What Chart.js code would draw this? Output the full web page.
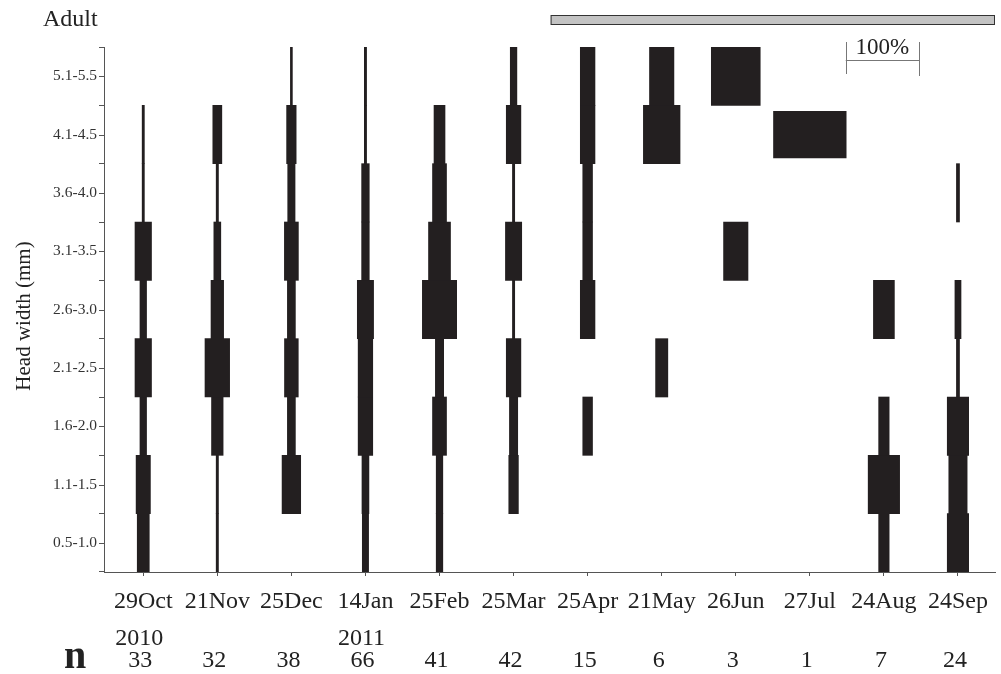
<!DOCTYPE html>
<html>
<head>
<meta charset="utf-8">
<script src="https://cdn.jsdelivr.net/npm/chart.js@4.4.1/dist/chart.umd.min.js"></script>
<style>
  html, body { margin: 0; padding: 0; background: #fff; }
  canvas { display: block; }
</style>
</head>
<body>
<canvas id="kiteChart" width="1001" height="674"></canvas>
<script>
const dates = ['29Oct', '21Nov', '25Dec', '14Jan', '25Feb', '25Mar', '25Apr', '21May', '26Jun', '27Jul', '24Aug', '24Sep'];
const years = ['2010', '', '', '2011', '', '', '', '', '', '', '', ''];
const nValues = [33, 32, 38, 66, 41, 42, 15, 6, 3, 1, 7, 24];
const bands = ['0.5-1.0', '1.1-1.5', '1.6-2.0', '2.1-2.5', '2.6-3.0', '3.1-3.5', '3.6-4.0', '4.1-4.5', '5.1-5.5'];

// % of individuals in each head width class, smallest class first
const oct29 = [16.4, 19.5, 9.0, 22.5, 9.0, 22.5, 3.0, 3.0, 0];
const nov21 = [3.1, 3.1, 15.8, 33.6, 17.2, 9.5, 3.1, 12.3, 0];
const dec25 = [0, 25.4, 10.9, 18.8, 10.9, 19.1, 10.0, 13.0, 2.7];
const jan14 = [8.6, 9.5, 19.9, 19.9, 22.2, 10.4, 10.4, 3.1, 3.1];
const feb25 = [9.0, 9.0, 19.1, 11.3, 46.8, 30.0, 19.1, 15.0, 0];
const mar25 = [0, 13.1, 11.3, 19.9, 3.1, 22.2, 3.1, 19.9, 9.0];
const apr25 = [0, 0, 13.3, 0, 20.0, 13.3, 13.3, 20.0, 20.0];
const may21 = [0, 0, 0, 16.7, 0, 0, 0, 50.0, 33.3];
const jun26 = [0, 0, 0, 0, 0, 33.3, 0, 0, 66.7];
const jul27 = [0, 0, 0, 0, 0, 0, 0, 100, 0];
const aug24 = [14.3, 42.9, 14.3, 0, 28.6, 0, 0, 0, 0];
const sep24 = [29.2, 25.0, 29.2, 4.2, 8.3, 0, 4.2, 0, 0];

const freq = [oct29, nov21, dec25, jan14, feb25, mar25, apr25, may21, jun26, jul27, aug24, sep24];

const UNIT_PER_PCT = 0.99 / 100; // 100% is about one sampling interval wide
const SERIF = '"Liberation Serif", "Times New Roman", serif';

const datasets = freq.map((vals, i) => ({
  label: dates[i],
  data: vals.map(p => p > 0 ? [i - p * UNIT_PER_PCT / 2, i + p * UNIT_PER_PCT / 2] : null),
  backgroundColor: '#231f20',
  borderWidth: 0,
  grouped: false,
  barPercentage: dates[i] === '27Jul' ? 0.81 : 1,
  categoryPercentage: 1,
}));

const extras = {
  id: 'extras',
  afterDraw(chart) {
    const { ctx, chartArea } = chart;
    const xs = chart.scales.x;
    const ys = chart.scales.y;
    ctx.save();

    // tick marks at the class labels
    ctx.strokeStyle = '#555';
    ctx.lineWidth = 1;
    bands.forEach((b, j) => {
      const y = Math.round(ys.getPixelForValue(j)) + 0.5;
      ctx.beginPath();
      ctx.moveTo(chartArea.left - 5, y);
      ctx.lineTo(chartArea.left, y);
      ctx.stroke();
    });

    // axis title
    ctx.save();
    ctx.translate(24, 316);
    ctx.rotate(-Math.PI / 2);
    ctx.fillStyle = '#222';
    ctx.font = '21px ' + SERIF;
    ctx.textAlign = 'center';
    ctx.textBaseline = 'middle';
    ctx.fillText('Head width (mm)', 0, 0);
    ctx.restore();

    // adult period bar
    ctx.fillStyle = '#c3c3c3';
    ctx.strokeStyle = '#333';
    const x0 = xs.getPixelForValue(5.5);
    ctx.fillRect(x0, 15, chartArea.right - x0, 10);
    ctx.strokeRect(x0 + 0.5, 15.5, chartArea.right - x0 - 1, 9);

    ctx.fillStyle = '#222';
    ctx.font = '24px ' + SERIF;
    ctx.textAlign = 'left';
    ctx.textBaseline = 'alphabetic';
    ctx.fillText('Adult', 43, 26);

    // 100% scale bar
    const sc = 9.98;
    const sl = xs.getPixelForValue(sc - 50 * UNIT_PER_PCT);
    const sr = xs.getPixelForValue(sc + 50 * UNIT_PER_PCT);
    ctx.strokeStyle = '#777';
    ctx.beginPath();
    ctx.moveTo(sl, 60.5); ctx.lineTo(sr, 60.5);
    ctx.moveTo(Math.round(sl) + 0.5, 42); ctx.lineTo(Math.round(sl) + 0.5, 74);
    ctx.moveTo(Math.round(sr) + 0.5, 42); ctx.lineTo(Math.round(sr) + 0.5, 76);
    ctx.stroke();
    ctx.textAlign = 'center';
    ctx.font = '23px ' + SERIF;
    ctx.fillText('100%', (sl + sr) / 2, 54);

    // year and sample size rows
    ctx.font = '24px ' + SERIF;
    dates.forEach((d, i) => {
      const x = xs.getPixelForValue(i);
      if (years[i]) ctx.fillText(years[i], x - 4, 645);
      ctx.fillText(String(nValues[i]), x - 3, 667);
    });
    ctx.font = 'bold 40px ' + SERIF;
    ctx.fillText('n', 75, 668);
    ctx.restore();
  }
};

new Chart(document.getElementById('kiteChart'), {
  type: 'bar',
  data: { labels: bands, datasets },
  options: {
    indexAxis: 'y',
    responsive: false,
    animation: false,
    layout: { padding: { top: 47, right: 6, left: 0, bottom: 0 } },
    plugins: { legend: { display: false }, tooltip: { enabled: false } },
    scales: {
      x: {
        type: 'linear',
        min: -0.53,
        max: 11.5,
        afterBuildTicks: s => { s.ticks = dates.map((d, i) => ({ value: i })); },
        afterFit: s => { s.height = 102; },
        grid: { drawOnChartArea: false, tickLength: 4, color: '#555' },
        border: { color: '#555' },
        ticks: {
          autoSkip: false,
          maxRotation: 0,
          padding: 11,
          color: '#222',
          font: { family: SERIF, size: 24 },
          callback: v => dates[v],
        },
      },
      y: {
        type: 'category',
        reverse: true,
        afterFit: s => { s.width = 104; },
        grid: { drawOnChartArea: false, offset: true, tickLength: 5, color: '#555' },
        border: { color: '#555' },
        ticks: {
          autoSkip: false,
          padding: 2,
          color: '#333',
          font: { family: SERIF, size: 15.5 },
        },
      },
    },
  },
  plugins: [extras],
});
</script>
</body>
</html>
